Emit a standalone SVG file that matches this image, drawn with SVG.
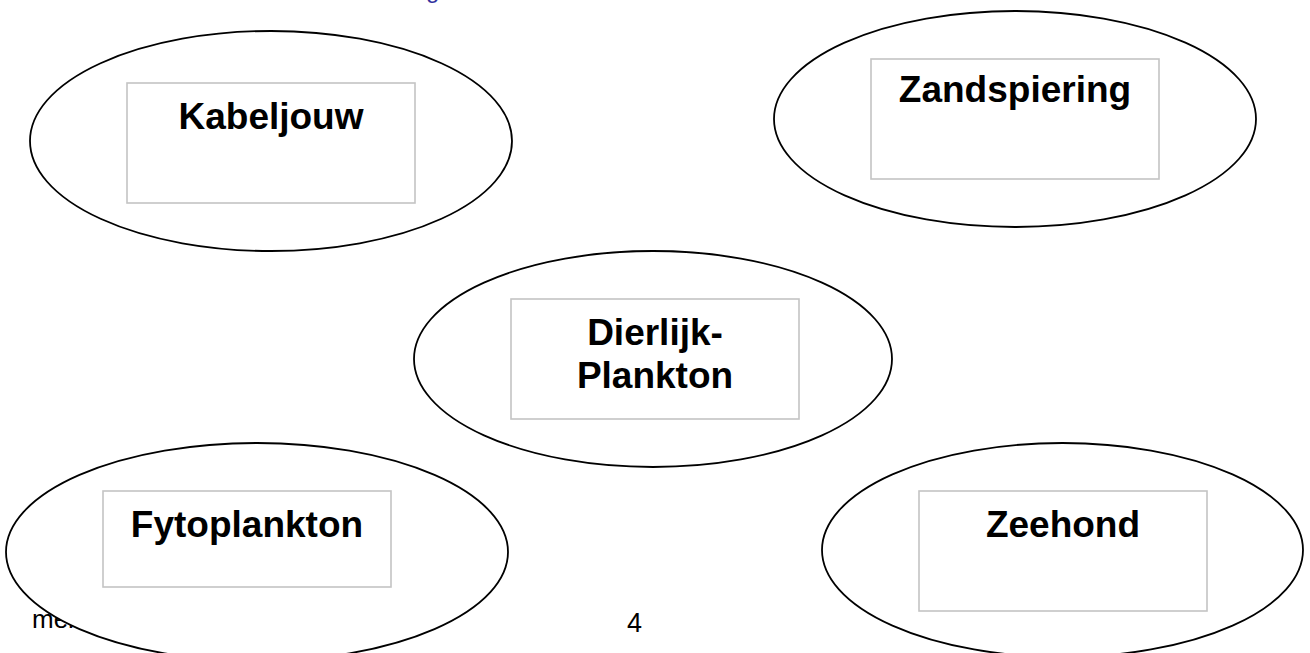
<svg xmlns="http://www.w3.org/2000/svg" width="1310" height="653" viewBox="0 0 1310 653">
<style>
.bg{fill:#ffffff}
.ell{fill:#ffffff;stroke:#000000;stroke-width:1.8}
.box{fill:#ffffff;stroke:#c4c4c4;stroke-width:1.6}
.lbl{font-family:"Liberation Sans",Arial,sans-serif;font-weight:bold;font-size:37px;fill:#000000;text-anchor:middle}
.foot{font-family:"Liberation Sans",Arial,sans-serif;font-size:26px;fill:#000000}
.head{font-family:"Liberation Sans",Arial,sans-serif;font-size:24px;fill:#3333a0}
</style>
<rect class="bg" x="0" y="0" width="1310" height="653"/>
<text class="head" x="426" y="-2">g</text>
<text class="foot" x="32" y="628">mer</text>
<text class="foot" x="627" y="632" style="font-size:27px">4</text>
<g id="connectors"></g>
<g id="kabeljouw">
<ellipse class="ell" cx="271" cy="141" rx="241" ry="110"/>
<rect class="box" x="127" y="83" width="288" height="120"/>
<text class="lbl" x="271" y="129">Kabeljouw</text>
</g>
<g id="zandspiering">
<ellipse class="ell" cx="1015" cy="119" rx="241" ry="108"/>
<rect class="box" x="871" y="59" width="288" height="120"/>
<text class="lbl" x="1015" y="102">Zandspiering</text>
</g>
<g id="dierlijk-plankton">
<ellipse class="ell" cx="653" cy="359" rx="239" ry="108"/>
<rect class="box" x="511" y="299" width="288" height="120"/>
<text class="lbl" x="655" y="345">Dierlijk-</text>
<text class="lbl" x="655" y="388">Plankton</text>
</g>
<g id="fytoplankton">
<ellipse class="ell" cx="257" cy="552" rx="251" ry="109"/>
<rect class="box" x="103" y="491" width="288" height="96"/>
<text class="lbl" x="247" y="537">Fytoplankton</text>
</g>
<g id="zeehond">
<ellipse class="ell" cx="1062.5" cy="550" rx="240.5" ry="107"/>
<rect class="box" x="919" y="491" width="288" height="120"/>
<text class="lbl" x="1063" y="537">Zeehond</text>
</g>
</svg>
